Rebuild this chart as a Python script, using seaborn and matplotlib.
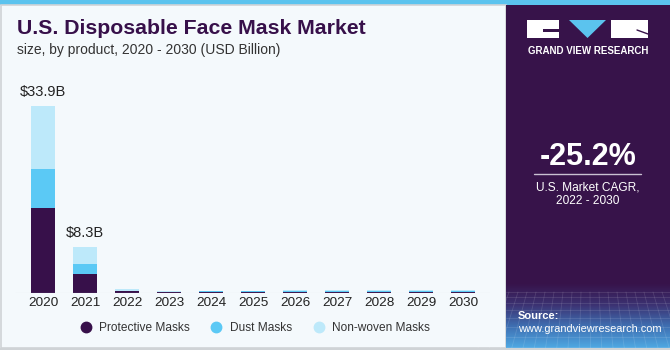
import numpy as np
import pandas as pd
import matplotlib
matplotlib.use("Agg")
import matplotlib.pyplot as plt
import seaborn as sns
from matplotlib.patches import Rectangle, Polygon
from matplotlib.colors import LinearSegmentedColormap
from matplotlib.lines import Line2D

# ---- data ----
years = ["2020", "2021", "2022", "2023", "2024", "2025", "2026", "2027", "2028", "2029", "2030"]
protective = [15.4, 3.4, 0.30, 0.17, 0.18, 0.18, 0.21, 0.21, 0.21, 0.23, 0.24]
dust = [7.0, 1.9, 0.14, 0.10, 0.11, 0.11, 0.12, 0.12, 0.12, 0.13, 0.13]
nonwoven = [11.5, 3.0, 0.26, 0.13, 0.14, 0.14, 0.15, 0.15, 0.15, 0.19, 0.20]
series_names = ["Protective Masks", "Dust Masks", "Non-woven Masks"]
label_years = ["2020", "2021"]
label_texts = ["$33.9B", "$8.3B"]

C_PROT = "#37104a"
C_DUST = "#5bc9f5"
C_NONW = "#bde9fa"
BG = "#f4f9fc"
PANEL = "#37134a"

sns.set_theme(style="white")
plt.rcParams['font.family'] = ['Liberation Sans', 'DejaVu Sans']

W, H = 670, 350
fig = plt.figure(figsize=(W / 100, H / 100), dpi=100)
fig.patch.set_facecolor(BG)

# background / decoration axes in pixel coords
bg = fig.add_axes([0, 0, 1, 1])
bg.set_xlim(0, W)
bg.set_ylim(H, 0)
bg.axis("off")
bg.add_patch(Rectangle((0, 0), W, 5, color="#5bc3ee", lw=0))
bg.add_patch(Rectangle((0.5, 5), 505, 343, fill=False, ec="#cfd3d6", lw=1.2))
bg.add_patch(Rectangle((506, 5), W - 506, H - 5, color=PANEL, lw=0))
grad = np.linspace(0, 1, 100).reshape(-1, 1)
cmap = LinearSegmentedColormap.from_list("g", [PANEL, "#3c3272", "#3f6fb2", "#4fa8e2"])
bg.imshow(grad, extent=(506, W, 348, 283), cmap=cmap, aspect="auto", zorder=1)
for xx in np.arange(500, 680, 9):
    bg.plot([xx, xx + (xx - 588) * 0.25], [292, 348], color="white", alpha=0.12, lw=0.6, zorder=2)
for yy in [292, 297, 303, 310, 318, 327, 337, 347]:
    bg.plot([506, W], [yy, yy], color="white", alpha=0.12, lw=0.6, zorder=2)
bg.add_patch(Rectangle((0, 348), W, 2, color="#cfd3d6", lw=0, zorder=3))

# logo
bg.add_patch(Rectangle((527, 20), 32, 18, color="white", lw=0, zorder=3))
bg.add_patch(Rectangle((543, 29), 16, 3, color=PANEL, lw=0, zorder=4))
bg.add_patch(Polygon([[569, 20], [606, 20], [587.5, 38]], closed=True, color="#5bc3ee", lw=0, zorder=3))
bg.add_patch(Rectangle((611, 20), 37, 18, color="white", lw=0, zorder=3))
bg.plot([637, 648], [30, 34], color=PANEL, lw=1, zorder=4)
bg.text(588, 51, "GRAND VIEW RESEARCH", color="white", fontsize=7.0, fontweight="bold",
        ha="center", va="center", zorder=5)

bg.text(588, 157, "-25.2%", color="white", fontsize=22, fontweight="bold", ha="center", va="center", zorder=5)
bg.plot([534, 641], [173.5, 173.5], color="#c9c0d2", lw=1, zorder=5)
bg.text(588, 187, "U.S. Market CAGR,", color="white", fontsize=8.6, ha="center", va="center", zorder=5)
bg.text(588, 201, "2022 - 2030", color="white", fontsize=8.6, ha="center", va="center", zorder=5)
bg.text(518, 316, "Source:", color="white", fontsize=8.0, fontweight="bold", ha="left", va="center", zorder=5)
bg.text(518, 329, "www.grandviewresearch.com", color="white", fontsize=7.9, ha="left", va="center", zorder=5)

# titles
bg.text(17, 29, "U.S. Disposable Face Mask Market", color="#37104a", fontsize=15.3,
        fontweight="heavy", ha="left", va="center", zorder=5)
bg.text(17, 50, "size, by product, 2020 - 2030 (USD Billion)", color="#333333", fontsize=10,
        ha="left", va="center", zorder=5)

# ---- chart ----
df = pd.DataFrame({"year": years, "p": protective, "d": dust, "n": nonwoven})
df["pd"] = df["p"] + df["d"]
df["total"] = df["pd"] + df["n"]

ax_l, ax_r = 15, 490
ax_b, ax_t = 293, 70
ax = fig.add_axes([ax_l / W, (H - ax_b) / H, (ax_r - ax_l) / W, (ax_b - ax_t) / H])
ax.set_facecolor("none")
ppu = 42.0

bw = 24 / ppu
sns.barplot(data=df, x="year", y="total", color=C_NONW, width=bw, saturation=1, ax=ax, linewidth=0)
sns.barplot(data=df, x="year", y="pd", color=C_DUST, width=bw, saturation=1, ax=ax, linewidth=0)
sns.barplot(data=df, x="year", y="p", color=C_PROT, width=bw, saturation=1, ax=ax, linewidth=0)
ax.set_xlim(-(43 - ax_l) / ppu, 10 + (ax_r - 463) / ppu)
ax.set_ylim(0, (ax_b - ax_t) / 5.516)

for yr, txt in zip(label_years, label_texts):
    i = years.index(yr)
    ax.annotate(txt, (i, df["total"][i]), xytext=(0, 5), textcoords="offset points",
                ha="center", va="bottom", fontsize=10.5, color="#222222")

sns.despine(ax=ax, left=True, bottom=True)
ax.set_yticks([])
ax.set_xlabel("")
ax.set_ylabel("")
ax.tick_params(axis="x", length=0, pad=3, labelsize=9.7, labelcolor="#222222")
ax.axhline(0, color="#d8dde2", lw=0.8)

handles = [Line2D([], [], marker="o", ls="", color=c, markersize=7.5) for c in (C_PROT, C_DUST, C_NONW)]
fig.legend(handles, series_names, loc="center", bbox_to_anchor=(252 / W, (H - 328) / H), ncol=3,
           frameon=False, fontsize=8.6, handletextpad=0.15, columnspacing=1.2, labelcolor="#333333")

fig.savefig("out.png", dpi=100, facecolor=BG)
